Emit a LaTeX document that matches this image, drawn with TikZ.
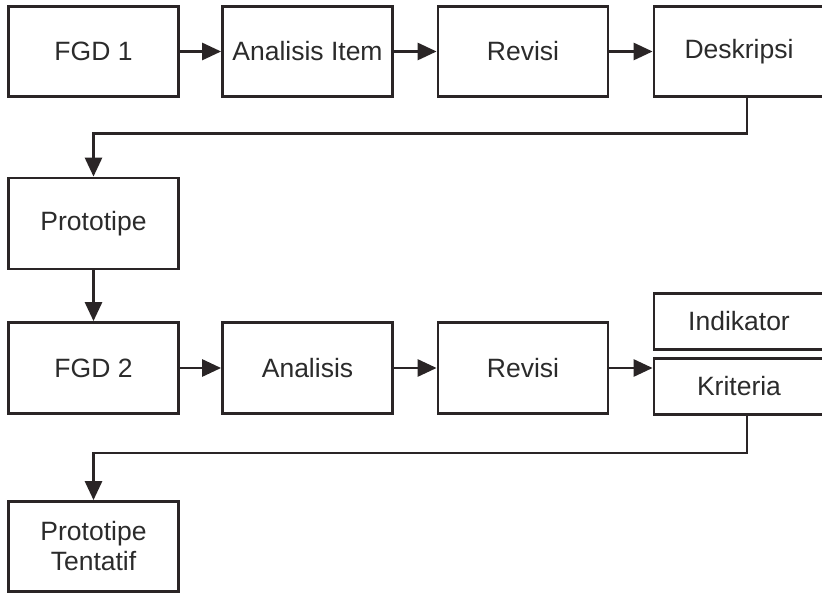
\documentclass[tikz,border=0pt]{standalone}
\usepackage{fontspec}
\setmainfont{Liberation Sans}
\usetikzlibrary{arrows.meta,calc}
\definecolor{linec}{HTML}{2A2526}
\definecolor{textc}{HTML}{2B2B2B}
\begin{document}
\begin{tikzpicture}[x=1pt,y=-1pt,
  box/.style={draw=linec,line width=2.8pt,fill=white,minimum width=170pt,minimum height=90pt,inner sep=0pt,
    text=textc,font=\fontsize{26.5}{30}\selectfont,align=center},
  smallbox/.style={box,minimum height=56pt},
  conn/.style={draw=linec,line width=2.8pt,-{Triangle[length=19pt,width=17pt]}}]
\useasboundingbox (0,0) rectangle (822,593);
\clip (0,0) rectangle (822,593);
\fill[white] (0,0) rectangle (822,593);
% row 1
\node[box] (fgd1) at (93.5,51.5) {FGD 1};
\node[box] (ana1) at (307.5,51.5) {Analisis Item};
\node[box] (rev1) at (523,51.5) {Revisi};
\node[box] (desk) at (739,51.5) {Deskripsi};
% prototipe
\node[box,minimum height=91pt] (proto) at (93.5,223.5) {Prototipe};
% row 2
\node[box,minimum height=91pt] (fgd2) at (93.5,368) {FGD 2};
\node[box,minimum height=91pt] (ana2) at (307.5,368) {Analisis};
\node[box,minimum height=91pt] (rev2) at (523,368) {Revisi};
\node[smallbox] (ind) at (739,321.5) {Indikator};
\node[smallbox] (krit) at (739,386.5) {Kriteria};
% final
\node[box] (tent) at (93.5,546.5) {Prototipe\\Tentatif};
% connectors
\draw[conn] (fgd1.east) -- (ana1.west);
\draw[conn] (ana1.east) -- (rev1.west);
\draw[conn] (rev1.east) -- (desk.west);
\draw[conn] ([xshift=8pt]desk.south) -- ++(0,35.5) -| (proto.north);
\draw[conn] (proto.south) -- (fgd2.north);
\draw[conn] (fgd2.east) -- (ana2.west);
\draw[conn] (ana2.east) -- (rev2.west);
\draw[conn] (rev2.east) -- (rev2.east -| krit.west);
\draw[conn] ([xshift=8pt]krit.south) -- ++(0,37) -| (tent.north);
\end{tikzpicture}
\end{document}
